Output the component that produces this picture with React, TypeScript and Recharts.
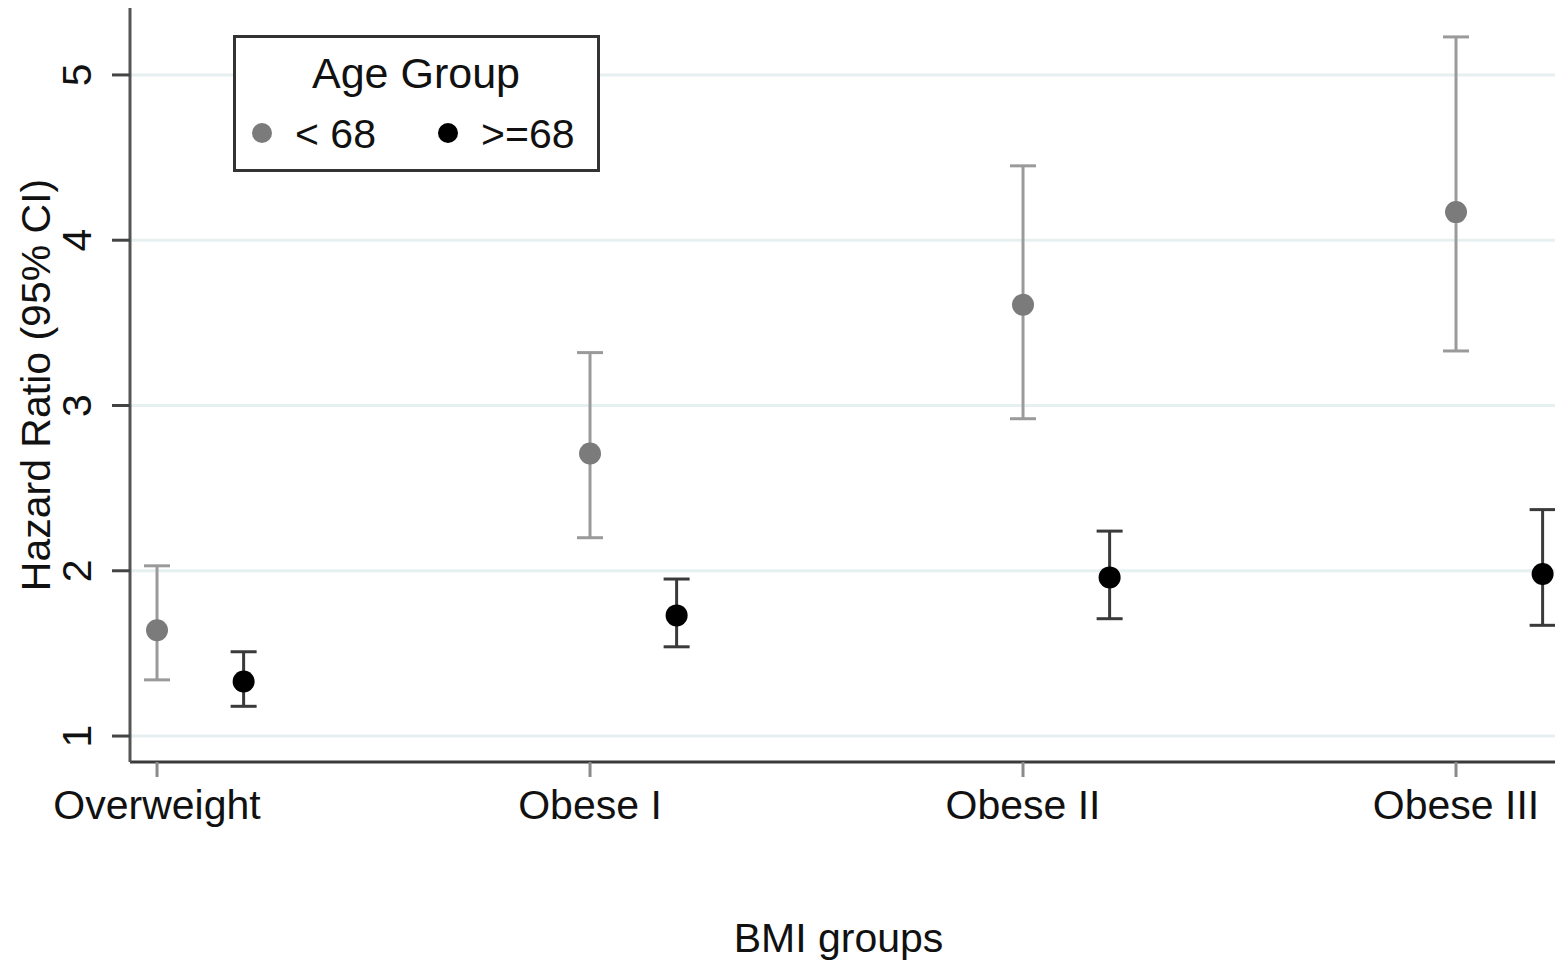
import { ScatterChart, Scatter, XAxis, YAxis, CartesianGrid, ErrorBar, Legend } from 'recharts';

// BMI groups on the x axis; the older age group is nudged right of each category
const categories = ['Overweight', 'Obese I', 'Obese II', 'Obese III'];
const groupOffset = [0, 0.2];

// hazard ratios with 95% CI, age < 68
const hrYoung = [1.64, 2.71, 3.61, 4.17];
const loYoung = [1.34, 2.2, 2.92, 3.33];
const hiYoung = [2.03, 3.32, 4.45, 5.23];

// hazard ratios with 95% CI, age >= 68
const hrOld = [1.33, 1.73, 1.96, 1.98];
const loOld = [1.18, 1.54, 1.71, 1.67];
const hiOld = [1.51, 1.95, 2.24, 2.37];

const yTicks = [1, 2, 3, 4, 5];
const xTicks = [0, 1, 2, 3];

const FONT = '"Liberation Sans", Arial, Helvetica, sans-serif';
const GREY = '#7b7b7b';
const GREY_BAR = '#9a9a9a';
const BLACK = '#000000';
const BLACK_BAR = '#3a3a3a';

function build(hr: number[], lo: number[], hi: number[], offset: number) {
  return hr.map((y, i) => ({ x: i + offset, y, err: [y - lo[i], hi[i] - y] }));
}

const youngData = build(hrYoung, loYoung, hiYoung, groupOffset[0]);
const oldData = build(hrOld, loOld, hiOld, groupOffset[1]);

const Dot = (color: string) => (props: any) => (
  <circle cx={props.cx} cy={props.cy} r={11} fill={color} />
);

const YTick = (props: any) => {
  const { x, y, payload } = props;
  return (
    <text
      x={x}
      y={y}
      transform={`rotate(-90, ${x}, ${y})`}
      textAnchor="middle"
      fontFamily={FONT}
      fontSize={41}
      fill="#111"
    >
      {payload.value}
    </text>
  );
};

const XTick = (props: any) => {
  const { x, y, payload } = props;
  return (
    <text x={x} y={y + 40} textAnchor="middle" fontFamily={FONT} fontSize={41} fill="#111">
      {categories[payload.value]}
    </text>
  );
};

const YTitle = (props: any) => {
  const vb = props.viewBox;
  const x = vb.x + 50;
  const y = vb.y + vb.height / 2;
  return (
    <text x={x} y={y} transform={`rotate(-90, ${x}, ${y})`} textAnchor="middle" fontFamily={FONT} fontSize={41} fill="#111">
      Hazard Ratio (95% CI)
    </text>
  );
};

const XTitle = (props: any) => {
  const vb = props.viewBox;
  return (
    <text x={vb.x + vb.width / 2 - 4} y={vb.y + 190} textAnchor="middle" fontFamily={FONT} fontSize={41} fill="#111">
      BMI groups
    </text>
  );
};

const LegendBox = (props: any) => {
  const items = props.payload || [];
  return (
    <svg width={367} height={137} style={{ display: 'block' }}>
      <rect x={1.5} y={1.5} width={364} height={134} fill="#fff" stroke="#333" strokeWidth={3} />
      <text x={183} y={53} textAnchor="middle" fontFamily={FONT} fontSize={43} fill="#111">
        Age Group
      </text>
      {items.map((it: any, i: number) => {
        const mx = i === 0 ? 29 : 215;
        return (
          <g key={it.value}>
            <circle cx={mx} cy={98} r={10} fill={it.color} />
            <text x={mx + 33} y={113} fontFamily={FONT} fontSize={41} fill="#111">
              {it.value}
            </text>
          </g>
        );
      })}
    </svg>
  );
};

export default function App() {
  return (
    <div style={{ position: 'fixed', left: 0, top: 0, width: 1555, height: 962, background: '#fff' }}>
      <ScatterChart width={1555} height={962} margin={{ top: 8, right: 0, bottom: 0, left: 0 }}>
        <CartesianGrid horizontal vertical={false} horizontalValues={yTicks} stroke="#e7f0f0" strokeWidth={3} />
        <XAxis
          type="number"
          dataKey="x"
          domain={[-0.0624, 3.2286]}
          allowDataOverflow
          ticks={xTicks}
          height={200}
          tick={<XTick />}
          tickSize={15}
          axisLine={{ stroke: '#3a3a3a', strokeWidth: 3 }}
          tickLine={{ stroke: '#8a8a8a', strokeWidth: 3 }}
          label={<XTitle />}
        />
        <YAxis
          type="number"
          dataKey="y"
          domain={[0.843, 5.405]}
          allowDataOverflow
          ticks={yTicks}
          width={130}
          tick={<YTick />}
          tickSize={18}
          tickMargin={21}
          axisLine={{ stroke: '#555', strokeWidth: 3 }}
          tickLine={{ stroke: '#444', strokeWidth: 3 }}
          label={<YTitle />}
        />
        <Legend
          layout="horizontal"
          verticalAlign="middle"
          align="center"
          content={<LegendBox />}
          wrapperStyle={{ position: 'absolute', left: 233, top: 35, width: 367, height: 137 }}
        />
        <Scatter name="< 68" data={youngData} fill={GREY} shape={Dot(GREY)} isAnimationActive={false}>
          <ErrorBar dataKey="err" direction="y" width={13} stroke={GREY_BAR} strokeWidth={3} isAnimationActive={false} />
        </Scatter>
        <Scatter name=">=68" data={oldData} fill={BLACK} shape={Dot(BLACK)} isAnimationActive={false}>
          <ErrorBar dataKey="err" direction="y" width={13} stroke={BLACK_BAR} strokeWidth={3} isAnimationActive={false} />
        </Scatter>
      </ScatterChart>
    </div>
  );
}
